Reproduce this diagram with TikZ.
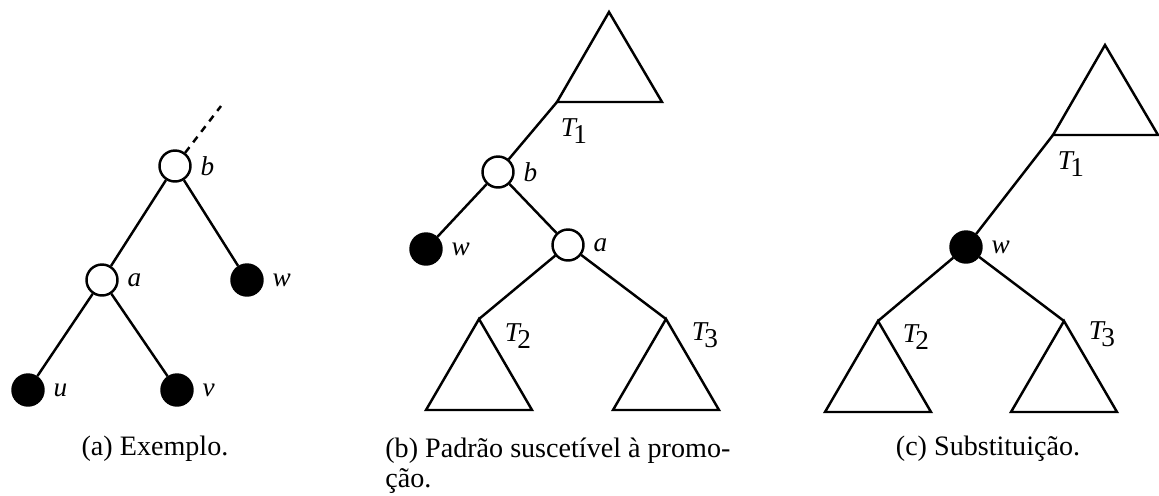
\documentclass[tikz,border=0pt]{standalone}
\usepackage{fontspec}
\setmainfont{Liberation Serif}
\usetikzlibrary{positioning}

\newcommand{\tname}[1]{\textit{T}\kern-1.5pt\raisebox{-0.6ex}{\upshape #1}}

\tikzset{
  open/.style={circle, draw, fill=white, line width=1.4pt, minimum size=0.62cm, inner sep=0pt},
  closed/.style={circle, draw, fill=black, line width=1.4pt, minimum size=0.62cm, inner sep=0pt},
  link/.style={line width=1.4pt},
  tag/.style={font=\fontsize{15.5}{17}\selectfont\itshape},
  caption/.style={font=\fontsize{16}{18}\selectfont},
  every label/.style={tag},
}

% subtree hanging below its root point
\newcommand{\subtree}[1]{\draw[link] (#1) -- ++(-53,91) -- ++(106,0) -- cycle;}
% subtree standing on its left corner
\newcommand{\uptree}[1]{\draw[link] (#1) -- ++(52,-90) -- ++(53,90) -- cycle;}

\begin{document}
\begin{tikzpicture}[x=0.02cm, y=-0.02cm, label distance=1.5pt]
  \useasboundingbox (0,0) rectangle (1159,495);

  % (a) exemplo
  \node[open, label=right:b] (ba) at (175,166) {};
  \node[open, label=right:a] (aa) at (102,280) {};
  \node[closed, label=right:w] (wa) at (247,280) {};
  \node[closed, label=right:u] (ua) at (28,390) {};
  \node[closed, label=right:v] (va) at (177,390) {};
  \coordinate (upa) at (221,106);
  \draw[link, dash pattern=on 4pt off 3.5pt] (ba) -- (upa);
  \draw[link] (ba) -- (aa) (ba) -- (wa) (aa) -- (ua) (aa) -- (va);
  \node[caption, anchor=base] (capa) at (155,455) {(a) Exemplo.};

  % (b) padrao
  \coordinate (t1b) at (557,102);
  \uptree{t1b}
  \node[tag] (lt1b) at (574,131) {\tname{1}};
  \node[open, label=right:b] (bb) at (498,172) {};
  \node[closed, label=right:w] (wb) at (426,249) {};
  \node[open, label=right:a] (ab) at (568,245) {};
  \coordinate (t2b) at (479,319);
  \coordinate (t3b) at (666,319);
  \subtree{t2b}
  \subtree{t3b}
  \node[tag] (lt2b) at (518,336) {\tname{2}};
  \node[tag] (lt3b) at (705,335) {\tname{3}};
  \draw[link] (bb) -- (t1b) (bb) -- (wb) (bb) -- (ab) (ab) -- (t2b) (ab) -- (t3b);
  \node[caption, anchor=base west, inner sep=0pt] (capb) at (385,457) {(b) Padrão suscetível à promo-};
  \node[caption, anchor=base west, inner sep=0pt] (capb2) at (385,487) {ção.};

  % (c) substituicao
  \coordinate (t1c) at (1053,135);
  \uptree{t1c}
  \node[tag] (lt1c) at (1071,164) {\tname{1}};
  \node[closed, label=right:w] (wc) at (966,247) {};
  \coordinate (t2c) at (878,321);
  \coordinate (t3c) at (1064,321);
  \subtree{t2c}
  \subtree{t3c}
  \node[tag] (lt2c) at (916,337) {\tname{2}};
  \node[tag] (lt3c) at (1102,334) {\tname{3}};
  \draw[link] (wc) -- (t1c) (wc) -- (t2c) (wc) -- (t3c);
  \node[caption, anchor=base] (capc) at (988,455) {(c) Substituição.};
\end{tikzpicture}
\end{document}
